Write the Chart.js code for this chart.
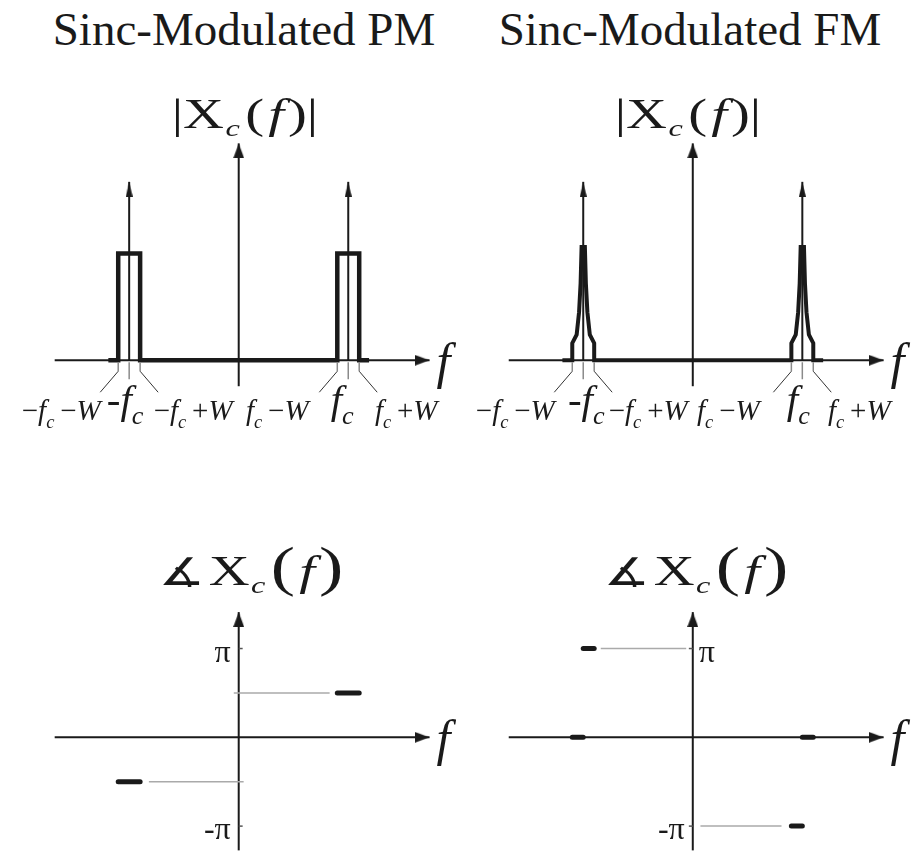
<!DOCTYPE html>
<html>
<head>
<meta charset="utf-8">
<script src="https://cdn.jsdelivr.net/npm/chart.js@4.4.1/dist/chart.umd.min.js"></script>
<style>
  body { margin: 0; background: #fff; width: 913px; height: 856px; position: relative; overflow: hidden;
         font-family: "Liberation Serif", "Times New Roman", serif; color: #1a1a1a; }
  canvas { position: absolute; }
  .ttl { position: absolute; font-size: 47px; line-height: 47px; white-space: nowrap; transform: translateX(-50%); }
  .mag { position: absolute; font-size: 42px; line-height: 42px; white-space: nowrap;
         transform: translateX(-50%) scaleX(1.35); }
  .mag sub { font-style: italic; font-size: 24px; vertical-align: -8px; line-height: 0; margin: 0 4px 0 1px; }
  .mag i { margin: 0 3px; }
  .mag .big { font-size: 54px; line-height: 0; }
  .mag .ang { font-family: "DejaVu Sans", sans-serif; font-size: 38px; line-height: 0; margin-right: 3px; }
</style>
</head>
<body>
<div class="ttl" style="left:244px;top:6px">Sinc-Modulated PM</div>
<div class="ttl" style="left:690px;top:6px">Sinc-Modulated FM</div>
<div class="mag" style="left:245px;top:93px">|X<sub>c</sub>(<i>f</i>)|</div>
<div class="mag" style="left:688px;top:93px">|X<sub>c</sub>(<i>f</i>)|</div>
<div class="mag" style="left:251px;top:550px"><span class="ang">∡</span>X<sub>c</sub><span class="big">(</span><i>f</i><span class="big">)</span></div>
<div class="mag" style="left:696px;top:550px"><span class="ang">∡</span>X<sub>c</sub><span class="big">(</span><i>f</i><span class="big">)</span></div>

<script>
// frequencies in units where fc = 10 and W = 1
const tickFreqs = [-11, -10, -9, 9, 10, 11];
const tickText  = ['−f_c −W', '-f_c', '−f_c +W', 'f_c −W', 'f_c', 'f_c +W'];
const tickBig   = [false, true, false, false, true, false];

const freqAxis = [-16.8, 17.42];

// magnitude panels (rectangle height = 1)
const magAxis = [-0.243, 2.03];
const impulseFreqs = [-10, 10];
const impulseHeight = 1.67;

const pmMagFreq = [-11.9, -11, -11, -9, -9, 9, 9, 11, 11, 11.9];
const pmMagAmp  = [0, 0, 1, 1, 0, 0, 1, 1, 0, 0];

const fmMagFreq = [-11.9, -11, -11, -10.6, -10.38, -10.24, -10.15, -9.85, -9.76, -9.62, -9.4, -9, -9,
                   9, 9, 9.4, 9.62, 9.76, 9.85, 10.15, 10.24, 10.38, 10.6, 11, 11, 11.9];
const fmMagAmp  = [0, 0, 0.16, 0.24, 0.45, 0.72, 1.06, 1.06, 0.72, 0.45, 0.24, 0.16, 0,
                   0, 0.16, 0.24, 0.45, 0.72, 1.06, 1.06, 0.72, 0.45, 0.24, 0.16, 0, 0];

// phase panels (radians)
const phaseAxis = [-4.0, 4.43];
const piTicks = [3.1416, -3.1416];
const piText = ['π', '-π'];

const pmPhaseFreq = [[-11, -9], [9, 11]];
const pmPhaseRad  = [-1.5708, 1.5708];
const pmGuideFreq = [[-8.2, 0.45], [-0.45, 8.3]];
const pmGuideRad  = [-1.5708, 1.5708];

const fmPhaseFreq = [[-11, -10], [-10, -9], [9, 10], [10, 11]];
const fmPhaseRad  = [0, 3.1416, -3.1416, 0];
const fmGuideFreq = [[-8.4, -0.6], [0.7, 8.1]];
const fmGuideRad  = [3.1416, -3.1416];

const INK = '#1a1a1a';
const SERIF = '"Liberation Serif", "Times New Roman", serif';

function arrowHead(w, h) {
  // tip sits at the image centre so the data point is the arrow tip
  const c = document.createElement('canvas');
  c.width = w; c.height = 2 * h;
  const g = c.getContext('2d');
  g.fillStyle = INK;
  g.beginPath(); g.moveTo(w / 2, h); g.lineTo(w, 2 * h); g.lineTo(0, 2 * h); g.closePath(); g.fill();
  return c;
}
const bigHead = arrowHead(11, 15);
const thinHead = arrowHead(7, 15);

function line(xs, ys, color, width, extra) {
  return Object.assign({
    data: xs.map((x, i) => ({ x: x, y: ys[i] })),
    showLine: true, borderColor: color, borderWidth: width,
    pointRadius: 0, fill: false, clip: false, borderJoinStyle: 'miter'
  }, extra || {});
}
function arrowLine(xs, ys, width, head, rot) {
  const n = xs.length - 1;
  return line(xs, ys, INK, width, {
    pointRadius: ctx => ctx.dataIndex === n ? 3 : 0,
    pointStyle: head, pointRotation: rot
  });
}

// draw "−f_c −W" style labels: letters italic, "_x" subscript
function drawMath(ctx, text, cx, base, size) {
  const runs = [];
  for (let i = 0; i < text.length; i++) {
    const ch = text[i];
    if (ch === '_') { runs.push({ t: text[++i], it: true, sub: true }); continue; }
    runs.push({ t: ch, it: /[A-Za-z]/.test(ch), sub: false });
  }
  let total = 0;
  runs.forEach(r => {
    const fs = r.sub ? size * 0.64 : size;
    ctx.font = (r.it ? 'italic ' : '') + fs + 'px ' + SERIF;
    r.w = r.t === ' ' ? size * 0.2 : ctx.measureText(r.t).width;
    r.fs = fs;
    total += r.w;
  });
  let x = cx - total / 2;
  ctx.textAlign = 'left';
  ctx.textBaseline = 'alphabetic';
  runs.forEach(r => {
    ctx.font = (r.it ? 'italic ' : '') + r.fs + 'px ' + SERIF;
    if (r.t !== ' ') ctx.fillText(r.t, x, base + (r.sub ? size * 0.26 : 0));
    x += r.w;
  });
}

const axisText = {
  id: 'axisText',
  afterDatasetsDraw(chart, args, o) {
    const ctx = chart.ctx, sx = chart.scales.x, sy = chart.scales.y;
    const y0 = sy.getPixelForValue(0);
    ctx.save();
    ctx.fillStyle = INK;
    ctx.font = 'italic 50px ' + SERIF;
    ctx.textAlign = 'left';
    ctx.fillText('f', sx.getPixelForValue(freqAxis[1]) + 7, y0 + 18);

    if (o.kind === 'mag') {
      tickFreqs.forEach((f, i) => {
        const x = sx.getPixelForValue(f);
        const big = tickBig[i];
        ctx.strokeStyle = '#8a8a8a';
        ctx.lineWidth = 1.5;
        ctx.beginPath(); ctx.moveTo(x, y0 + 2); ctx.lineTo(x, y0 + (big ? 19 : 11)); ctx.stroke();
        if (!big) {
          const dir = (i === 0 || i === 3) ? -1 : 1;
          ctx.strokeStyle = '#333';
          ctx.lineWidth = 1;
          ctx.beginPath(); ctx.moveTo(x, y0 + 11); ctx.lineTo(x + dir * 18, y0 + 32); ctx.stroke();
        }
        ctx.fillStyle = INK;
        if (big) drawMath(ctx, tickText[i], x + o.dx[i], y0 + 53, 41);
        else drawMath(ctx, tickText[i], x + o.dx[i], y0 + 60, 29);
      });
    } else {
      const xa = sx.getPixelForValue(0);
      ctx.font = '32px ' + SERIF;
      piTicks.forEach((p, i) => {
        const y = sy.getPixelForValue(p);
        const right = o.piSide[i] > 0;
        ctx.textAlign = right ? 'left' : 'right';
        ctx.fillText(piText[i], xa + (right ? 6 : -8), y + 13);
      });
    }
    ctx.restore();
  }
};

function panel(box, cx, cy, pxX, pxY, datasets, textOpts) {
  const cv = document.createElement('canvas');
  cv.width = box.w; cv.height = box.h;
  cv.style.left = box.l + 'px'; cv.style.top = box.t + 'px';
  cv.style.width = box.w + 'px'; cv.style.height = box.h + 'px';
  document.body.insertBefore(cv, document.body.firstChild);
  new Chart(cv.getContext('2d'), {
    type: 'scatter',
    data: { datasets: datasets },
    options: {
      responsive: false, animation: false, events: [],
      layout: { padding: 0 },
      plugins: { legend: { display: false }, tooltip: { enabled: false }, axisText: textOpts },
      scales: {
        x: { type: 'linear', display: false, min: -(cx - box.l) / pxX, max: (box.l + box.w - cx) / pxX },
        y: { type: 'linear', display: false, min: -(box.t + box.h - cy) / pxY, max: (cy - box.t) / pxY }
      }
    },
    plugins: [axisText]
  });
}

const PX_F = 11.25, PX_A = 111, PX_P = 29.6;

// magnitude, PM
panel({ l: 0, t: 130, w: 456, h: 320 }, 239, 363, PX_F, PX_A, [
  arrowLine([impulseFreqs[0], impulseFreqs[0]], [0, impulseHeight], 2, thinHead, 0),
  arrowLine([impulseFreqs[1], impulseFreqs[1]], [0, impulseHeight], 2, thinHead, 0),
  line(pmMagFreq, pmMagAmp, INK, 4.5),
  arrowLine([0, 0], magAxis, 2, bigHead, 0),
  arrowLine(freqAxis, [0, 0], 2, bigHead, 90)
], { kind: 'mag', dx: [-57, -4, 53, -60, -6, 47] });

// magnitude, FM
panel({ l: 456, t: 130, w: 457, h: 320 }, 693, 363, PX_F, PX_A, [
  arrowLine([impulseFreqs[0], impulseFreqs[0]], [0, impulseHeight], 2, thinHead, 0),
  arrowLine([impulseFreqs[1], impulseFreqs[1]], [0, impulseHeight], 2, thinHead, 0),
  line(fmMagFreq, fmMagAmp, INK, 4),
  arrowLine([0, 0], magAxis, 2, bigHead, 0),
  arrowLine(freqAxis, [0, 0], 2, bigHead, 90)
], { kind: 'mag', dx: [-57, 3, 54, -63, -4, 46] });

// phase, PM
panel({ l: 0, t: 590, w: 456, h: 266 }, 239, 738, PX_F, PX_P, [
  line(pmPhaseFreq[0], [pmPhaseRad[0], pmPhaseRad[0]], INK, 5, { borderCapStyle: 'round' }),
  line(pmPhaseFreq[1], [pmPhaseRad[1], pmPhaseRad[1]], INK, 5, { borderCapStyle: 'round' }),
  line(pmGuideFreq[0], [pmGuideRad[0], pmGuideRad[0]], '#aaaaaa', 1.5),
  line(pmGuideFreq[1], [pmGuideRad[1], pmGuideRad[1]], '#aaaaaa', 1.5),
  line([0, 0.36], [piTicks[0], piTicks[0]], '#555', 1.5),
  line([0, 0.36], [piTicks[1], piTicks[1]], '#555', 1.5),
  arrowLine([0, 0], phaseAxis, 2, bigHead, 0),
  arrowLine(freqAxis, [0, 0], 2, bigHead, 90)
], { kind: 'phase', piSide: [-1, -1] });

// phase, FM
panel({ l: 456, t: 590, w: 457, h: 266 }, 693, 738, PX_F, PX_P, [
  line(fmPhaseFreq[0], [fmPhaseRad[0], fmPhaseRad[0]], INK, 5, { borderCapStyle: 'round' }),
  line(fmPhaseFreq[1], [fmPhaseRad[1], fmPhaseRad[1]], INK, 5, { borderCapStyle: 'round' }),
  line(fmPhaseFreq[2], [fmPhaseRad[2], fmPhaseRad[2]], INK, 5, { borderCapStyle: 'round' }),
  line(fmPhaseFreq[3], [fmPhaseRad[3], fmPhaseRad[3]], INK, 5, { borderCapStyle: 'round' }),
  line(fmGuideFreq[0], [fmGuideRad[0], fmGuideRad[0]], '#aaaaaa', 1.5),
  line(fmGuideFreq[1], [fmGuideRad[1], fmGuideRad[1]], '#aaaaaa', 1.5),
  line([-0.36, 0], [piTicks[0], piTicks[0]], '#555', 1.5),
  line([-0.36, 0], [piTicks[1], piTicks[1]], '#555', 1.5),
  arrowLine([0, 0], phaseAxis, 2, bigHead, 0),
  arrowLine(freqAxis, [0, 0], 2, bigHead, 90)
], { kind: 'phase', piSide: [1, -1] });
</script>
</body>
</html>
